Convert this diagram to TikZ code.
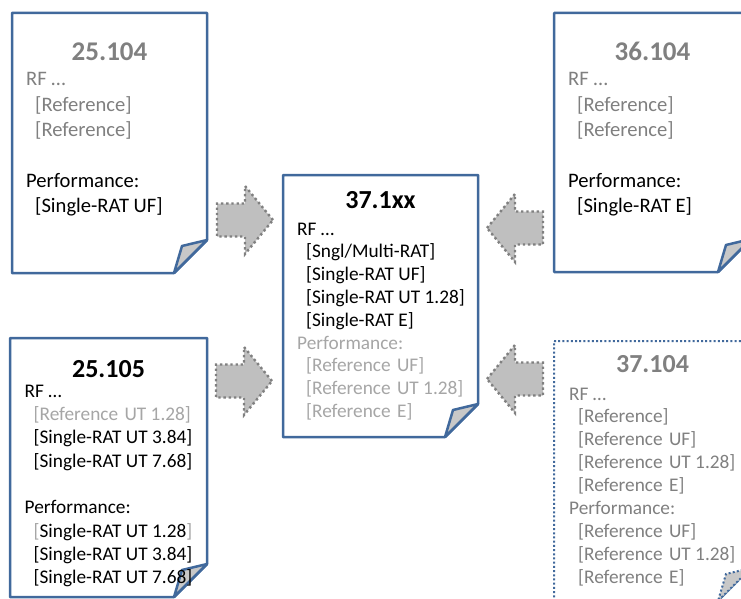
\documentclass[tikz,border=0pt]{standalone}
\usepackage{fontspec}
\setmainfont{Carlito}
\usepackage{xcolor}
\usepackage{tikz}
\usetikzlibrary{calc}
\definecolor{bluedoc}{HTML}{41699C}
\definecolor{grayfill}{HTML}{BFBFBF}
\definecolor{graydot}{HTML}{808080}
\definecolor{graytxt}{HTML}{808080}
\definecolor{greytxt}{HTML}{A6A6A6}
\definecolor{foldfill}{HTML}{C8C8C8}
\tikzset{
  docsheet/.style={draw=bluedoc,line width=2.5pt,line join=round,fill=white},
  docdotted/.style={draw=bluedoc,line width=2pt,dash pattern=on 2pt off 2.2pt,fill=white},
  foldpart/.style={fill=foldfill},
  blockarrow/.style={fill=grayfill,draw=graydot,line width=2.4pt,dash pattern=on 2.4pt off 2.8pt},
  doctitle/.style={font=\fontsize{26}{30}\selectfont\bfseries,anchor=base,inner sep=0pt},
  toptitle/.style={doctitle,font=\fontsize{27}{31}\selectfont\bfseries},
  docline/.style={font=\fontsize{19.3}{23}\selectfont,anchor=base west,inner sep=0pt},
  topline/.style={docline,font=\fontsize{20.6}{25}\selectfont},
}
% sheet with folded corner: [style]{left}{top}{right}{bottom}
\newcommand{\drawsheet}[5][docsheet]{%
  \draw[#1] (#2,#3) -- (#4,#3) -- (#4,#5-33) -- (#4-33,#5) -- (#2,#5) -- cycle;
  \draw[#1,foldpart] (#4,#5-33) -- (#4-25,#5-27) -- (#4-33,#5) -- cycle;}
\newcommand{\ind}{\hspace*{9pt}}
\newcommand{\gap}{\ \hspace{2pt}}

\begin{document}
\begin{tikzpicture}[x=1pt,y=-1pt]
  \useasboundingbox (0,0) rectangle (741,599);
  \clip (0,0) rectangle (741,599);

  % the five specs
  \drawsheet{12}{13}{207}{273}
  \drawsheet{554}{13}{751}{272}
  \drawsheet{283}{175}{478}{437}
  \drawsheet{10}{338}{207}{597}
  \drawsheet[docdotted]{554}{341}{751}{601}

  % 25.104
  \node[toptitle,graytxt] (t25104) at (109.5,61) {25.104};
  \foreach \k/\t in {0/{\color{graytxt}RF …},1/{\color{graytxt}\ind[Reference]},
      2/{\color{graytxt}\ind[Reference]},4/{Performance:},5/{\ind[Single-RAT UF]}}
    \node[topline] (l25104-\k) at (26,86+25.3*\k) {\t};

  % 36.104
  \node[toptitle,graytxt] (t36104) at (652.5,61) {36.104};
  \foreach \k/\t in {0/{\color{graytxt}RF …},1/{\color{graytxt}\ind[Reference]},
      2/{\color{graytxt}\ind[Reference]},4/{Performance:},5/{\ind[Single-RAT E]}}
    \node[topline] (l36104-\k) at (568,86+25.3*\k) {\t};

  % 37.1xx
  \node[doctitle] (t371xx) at (380.5,208) {37.1xx};
  \foreach \k/\t in {0/{RF …},1/{\ind[Sngl/Multi-RAT]},2/{\ind[Single-RAT UF]},
      3/{\ind[Single-RAT UT 1.28]},4/{\ind[Single-RAT E]},
      5/{\color{greytxt}Performance:},6/{\color{greytxt}\ind[Reference\gap UF]},
      7/{\color{greytxt}\ind[Reference\gap UT 1.28]},8/{\color{greytxt}\ind[Reference\gap E]}}
    \node[docline] (l371xx-\k) at (297,235+22.8*\k) {\t};

  % 25.105
  \node[doctitle] (t25105) at (108.5,377) {25.105};
  \foreach \k/\t in {0/{RF …},1/{\color{greytxt}\ind[Reference\gap UT 1.28]},
      2/{\ind[Single-RAT UT 3.84]},3/{\ind[Single-RAT UT 7.68]},5/{Performance:},
      6/{\ind\textcolor{greytxt}{[}Single-RAT UT 1.28\textcolor{greytxt}{]}},
      7/{\ind[Single-RAT UT 3.84]},8/{\ind[Single-RAT UT 7.68]}}
    \node[docline] (l25105-\k) at (24.5,397+23.35*\k) {\t};

  % 37.104
  \node[doctitle,graytxt] (t37104) at (652.5,372) {37.104};
  \foreach \k/\t in {0/{RF …},1/{\ind[Reference]},2/{\ind[Reference\gap UF]},
      3/{\ind[Reference\gap UT 1.28]},4/{\ind[Reference\gap E]},5/{Performance:},
      6/{\ind[Reference\gap UF]},7/{\ind[Reference\gap UT 1.28]},8/{\ind[Reference\gap E]}}
    \node[docline,graytxt] (l37104-\k) at (569,400+22.9*\k) {\t};

  % block arrows: tip x / tip y / direction
  \foreach \tx/\ty/\d in {273/220/1,272/381/1,487/228/-1,487/379/-1}
    \draw[blockarrow] (\tx,\ty) -- ++(-28*\d,-34) -- ++(0,17.5) -- ++(-28*\d,0)
      -- ++(0,33) -- ++(28*\d,0) -- ++(0,17.5) -- cycle;
\end{tikzpicture}
\end{document}
